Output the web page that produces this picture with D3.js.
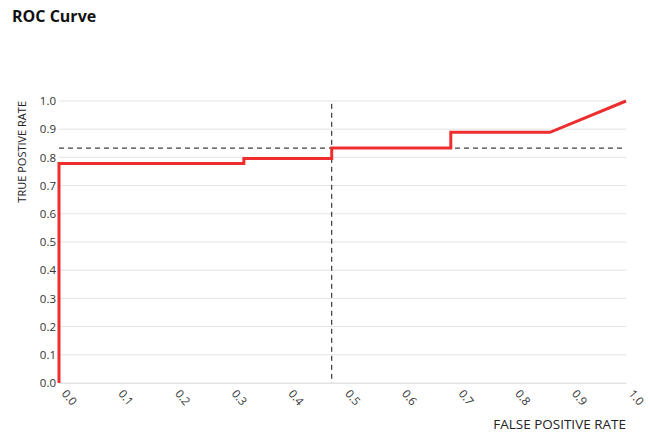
<!DOCTYPE html>
<html><head><meta charset="utf-8">
<script src="https://cdn.jsdelivr.net/npm/d3@7"></script>
<style>
body{margin:0;background:#fff;font-family:"Open Sans",sans-serif;}
</style></head>
<body><svg id="c" width="650" height="443"></svg>
<script>
const fpr = [0, 0, 0.326, 0.326, 0.481, 0.481, 0.691, 0.691, 0.866, 1.0];
const tpr = [0, 0.778, 0.778, 0.796, 0.796, 0.833, 0.833, 0.889, 0.889, 1.0];
const thresholdFpr = 0.481;
const thresholdTpr = 0.833;
const xTicks = [0,0.1,0.2,0.3,0.4,0.5,0.6,0.7,0.8,0.9,1.0];
const yTicks = [0,0.1,0.2,0.3,0.4,0.5,0.6,0.7,0.8,0.9,1.0];

const svg = d3.select("#c");
const x = d3.scaleLinear().domain([0,1]).range([59,626]);
const y = d3.scaleLinear().domain([0,1]).range([383,101]);

svg.append("text").attr("x",12).attr("y",22).attr("font-size",16).attr("font-weight","bold")
  .attr("fill","#111").text("ROC Curve");

// grid
svg.append("g").selectAll("line").data(yTicks).join("line")
  .attr("x1",x(0)).attr("x2",x(1)).attr("y1",d=>y(d)).attr("y2",d=>y(d))
  .attr("stroke","#e3e3e3").attr("stroke-width",1);

// y axis labels
const ya = svg.append("g").attr("transform",`translate(${x(0)},0)`)
  .call(d3.axisLeft(y).tickValues(yTicks).tickFormat(d3.format(".1f")).tickSize(0).tickPadding(3));
ya.select(".domain").remove();
ya.selectAll("text").attr("font-size",11.5).attr("fill","#333").attr("font-family","Open Sans, sans-serif");

// x axis
const xa = svg.append("g").attr("transform",`translate(0,${y(0)})`)
  .call(d3.axisBottom(x).tickValues(xTicks).tickFormat(d3.format(".1f")).tickSize(0).tickPadding(0));
xa.select(".domain").attr("stroke","#e3e3e3");
xa.selectAll("text").attr("font-size",11.5).attr("fill","#333").attr("font-family","Open Sans, sans-serif")
  .attr("text-anchor","start").attr("dy",0).attr("transform","translate(1.5,11) rotate(50)");

// dashed threshold lines
svg.append("line").attr("x1",x(0)).attr("x2",x(0.993)).attr("y1",y(thresholdTpr)).attr("y2",y(thresholdTpr))
  .attr("stroke","#111").attr("stroke-width",1).attr("stroke-dasharray","5,4");
svg.append("line").attr("x1",x(thresholdFpr)).attr("x2",x(thresholdFpr)).attr("y1",y(0.99)).attr("y2",y(0))
  .attr("stroke","#111").attr("stroke-width",1).attr("stroke-dasharray","5,4");

// ROC curve
const pts = fpr.map((f,i)=>[f,tpr[i]]);
svg.append("path").datum(pts)
  .attr("d",d3.line().x(d=>x(d[0])).y(d=>y(d[1])))
  .attr("fill","none").attr("stroke","#ee2e2e").attr("stroke-width",3);

// axis titles
svg.append("text").attr("transform",`translate(26,${y(1)}) rotate(-90)`).attr("text-anchor","end")
  .attr("font-size",11).attr("fill","#222").text("TRUE POSTIVE RATE");
svg.append("text").attr("x",x(1)).attr("y",429).attr("text-anchor","end")
  .attr("font-size",13.5).attr("fill","#222").text("FALSE POSITIVE RATE");
</script></body></html>
